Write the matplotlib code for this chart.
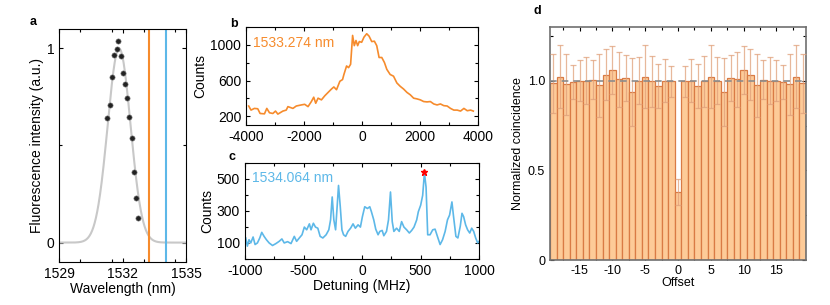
import numpy as np
import matplotlib.pyplot as plt
from matplotlib.ticker import MultipleLocator

plt.rcParams['font.family'] = ['Liberation Sans', 'DejaVu Sans']
plt.rcParams['xtick.direction'] = 'in'
plt.rcParams['ytick.direction'] = 'in'
plt.rcParams['axes.unicode_minus'] = False

ORANGE = '#F68B2C'
BLUE = '#5DB8E8'

# panel a: fluorescence spectrum
wl_pts = [1531.29, 1531.40, 1531.51, 1531.61, 1531.72, 1531.81, 1531.92, 1532.02,
          1532.11, 1532.21, 1532.32, 1532.43, 1532.54, 1532.64, 1532.72]
fl_pts = [0.639, 0.708, 0.855, 0.968, 0.995, 1.039, 0.961, 0.874,
          0.817, 0.747, 0.646, 0.537, 0.366, 0.231, 0.125]
fit_center = 1531.84
fit_sigma = 0.54
line_b = 1533.274
line_c = 1534.064

# panel b
det_b = [-3908, -3827, -3711, -3595, -3514, -3364, -3283, -3191, -3075, -2983, -2902,
         -2728, -2613, -2555, -2382, -2266, -2093, -1977, -1861, -1746, -1665, -1596,
         -1515, -1399, -1283, -1168, -1052, -971, -879, -763, -671, -624, -532, -463,
         -393, -324, -266, -208, -150, -93, -12, 69, 162, 243, 335, 427, 508, 589, 682,
         774, 855, 971, 1087, 1202, 1318, 1433, 1549, 1664, 1780, 1896, 2011, 2127,
         2243, 2358, 2474, 2589, 2705, 2820, 2936, 3052, 3167, 3283, 3398, 3514, 3630,
         3745, 3838]
cnt_b = [314, 268, 287, 283, 230, 226, 287, 238, 230, 257, 223, 257, 268, 307, 287, 314,
         326, 333, 307, 364, 413, 345, 402, 383, 429, 467, 505, 528, 497, 592, 611, 668,
         764, 745, 783, 1107, 992, 1050, 992, 1038, 1030, 1088, 1126, 1099, 1038, 1042,
         992, 859, 859, 802, 726, 668, 649, 573, 535, 505, 467, 440, 402, 394, 383, 364,
         360, 364, 337, 326, 337, 318, 314, 287, 268, 268, 257, 287, 261, 268, 257]

# panel c
det_c = [-994, -980, -966, -951, -931, -914, -894, -874, -857, -837, -817, -794, -765,
         -736, -708, -685, -665, -636, -607, -579, -559, -536, -513, -493, -473, -450,
         -436, -416, -398, -378, -358, -335, -307, -284, -269, -255, -241, -226, -212,
         -201, -186, -172, -158, -140, -120, -98, -77, -57, -34, -14, 3, 23, 46, 66, 80,
         100, 117, 137, 152, 172, 186, 209, 226, 243, 258, 272, 295, 318, 338, 358, 381,
         404, 424, 444, 467, 481, 501, 518, 533, 547, 561, 581, 604, 624, 644, 667, 688,
         710, 730, 748, 768, 782, 802, 819, 839, 854, 868, 885, 902, 920, 937, 954, 971,
         988, 1000]
cnt_c = [131, 80, 120, 100, 137, 90, 100, 131, 166, 141, 120, 100, 84, 96, 110, 125, 100,
         108, 96, 141, 110, 131, 151, 199, 182, 219, 182, 223, 199, 192, 141, 131, 151,
         182, 244, 387, 244, 182, 336, 459, 326, 182, 151, 141, 172, 192, 219, 192, 213,
         199, 264, 326, 315, 326, 295, 244, 186, 151, 172, 178, 145, 172, 244, 418, 233,
         172, 192, 172, 233, 199, 182, 162, 178, 199, 244, 295, 336, 397, 537, 449, 151,
         151, 182, 186, 141, 90, 120, 172, 244, 274, 356, 264, 141, 131, 203, 285, 264,
         213, 182, 162, 192, 172, 131, 100, 110]
star_x, star_y = 530, 545

# panel d
offsets = list(range(-19, 20))
half = [0.985, 1.022, 0.981, 0.993, 1.000, 1.000, 1.007, 0.976, 1.033, 1.059,
        1.009, 1.015, 0.939, 1.000, 1.022, 0.996, 0.970, 1.000, 0.996]
coinc = half + [0.378] + half[::-1]
half_err = [0.163, 0.176, 0.170, 0.094, 0.115, 0.130, 0.109, 0.176, 0.143, 0.135,
            0.154, 0.130, 0.190, 0.130, 0.176, 0.141, 0.122, 0.120, 0.087]
coinc_err = half_err + [0.072] + half_err[::-1]

fig = plt.figure(figsize=(8.3, 3.05), dpi=100)

def style(ax, fs=10):
    ax.tick_params(which='both', top=True, right=True, labelsize=fs, length=3, width=0.8)
    ax.tick_params(which='minor', length=2)
    for s in ax.spines.values():
        s.set_linewidth(0.8)

# a
ax = fig.add_axes([0.0711, 0.141, 0.153, 0.764])
xx = np.linspace(1529, 1535, 400)
ax.plot(xx, np.exp(-(xx - fit_center) ** 2 / (2 * fit_sigma ** 2)), color='#C8C8C8', lw=1.5)
ax.plot(wl_pts, fl_pts, 'o', color='#222222', mec='#888888', mew=0.4, ms=3.8)
ax.axvline(line_b, color=ORANGE, lw=1.5)
ax.axvline(line_c, color=BLUE, lw=1.5)
ax.set_xlim(1529, 1535)
ax.set_ylim(-0.1, 1.1)
ax.set_xticks([1529, 1532, 1535])
ax.set_yticks([0, 1])
ax.xaxis.set_minor_locator(MultipleLocator(1.5))
ax.yaxis.set_minor_locator(MultipleLocator(0.5))
ax.set_xlabel('Wavelength (nm)', fontsize=10, labelpad=1)
ax.set_ylabel('Fluorescence intensity (a.u.)', fontsize=10, labelpad=2)
style(ax)
ax.text(-0.23, 1.03, 'a', transform=ax.transAxes, fontsize=9, fontweight='bold', va='center')

# b
ax = fig.add_axes([0.2964, 0.590, 0.2795, 0.321])
ax.plot(det_b, cnt_b, color=ORANGE, lw=1.2)
ax.set_xlim(-4000, 4000)
ax.set_ylim(100, 1200)
ax.set_xticks([-4000, -2000, 0, 2000, 4000])
ax.set_yticks([200, 600, 1000])
ax.xaxis.set_minor_locator(MultipleLocator(1000))
ax.yaxis.set_minor_locator(MultipleLocator(200))
ax.set_ylabel('Counts', fontsize=10, labelpad=2)
ax.text(0.03, 0.8, '1533.274 nm', transform=ax.transAxes, color=ORANGE, fontsize=10)
style(ax)
ax.text(-0.07, 1.03, 'b', transform=ax.transAxes, fontsize=9, fontweight='bold', va='center')

# c
ax = fig.add_axes([0.2952, 0.151, 0.282, 0.315])
ax.plot(det_c, cnt_c, color=BLUE, lw=1.2)
ax.plot([star_x], [star_y], '*', color='red', ms=5)
ax.set_xlim(-1000, 1000)
ax.set_ylim(0, 600)
ax.set_xticks([-1000, -500, 0, 500, 1000])
ax.set_yticks([100, 300, 500])
ax.xaxis.set_minor_locator(MultipleLocator(250))
ax.yaxis.set_minor_locator(MultipleLocator(100))
ax.set_xlabel('Detuning (MHz)', fontsize=10, labelpad=1)
ax.set_ylabel('Counts', fontsize=10, labelpad=2)
ax.text(0.03, 0.8, '1534.064 nm', transform=ax.transAxes, color=BLUE, fontsize=10)
style(ax)
ax.text(-0.07, 1.06, 'c', transform=ax.transAxes, fontsize=9, fontweight='bold', va='center')

# d
ax = fig.add_axes([0.6627, 0.1475, 0.3084, 0.764])
ax.bar(offsets, coinc, width=1, color='#FDCB98', edgecolor='#D97B45', lw=0.9, zorder=2)
ax.errorbar(offsets, coinc, yerr=coinc_err, fmt='none', ecolor='#E0A07A', alpha=0.75,
            elinewidth=0.9, capsize=2.5, capthick=0.9, zorder=3)
ax.axhline(1.0, color='#8C8C8C', ls=(0, (4, 3)), lw=1.2, zorder=4)
ax.set_xlim(-19.5, 19.5)
ax.set_ylim(0, 1.3)
ax.set_xticks([-15, -10, -5, 0, 5, 10, 15])
ax.set_yticks([0, 0.5, 1.0])
ax.set_yticklabels(['0', '0.5', '1.0'])
ax.xaxis.set_minor_locator(MultipleLocator(2.5))
ax.yaxis.set_minor_locator(MultipleLocator(0.25))
ax.set_xlabel('Offset', fontsize=9, labelpad=0)
ax.set_ylabel('Normalized coincidence', fontsize=9, labelpad=3)
style(ax, fs=9)
for s in ax.spines.values():
    s.set_color('#707070')
    s.set_linewidth(1.2)
ax.text(-0.065, 1.07, 'd', transform=ax.transAxes, fontsize=9, fontweight='bold', va='center')

fig.savefig('out.png', dpi=100)
